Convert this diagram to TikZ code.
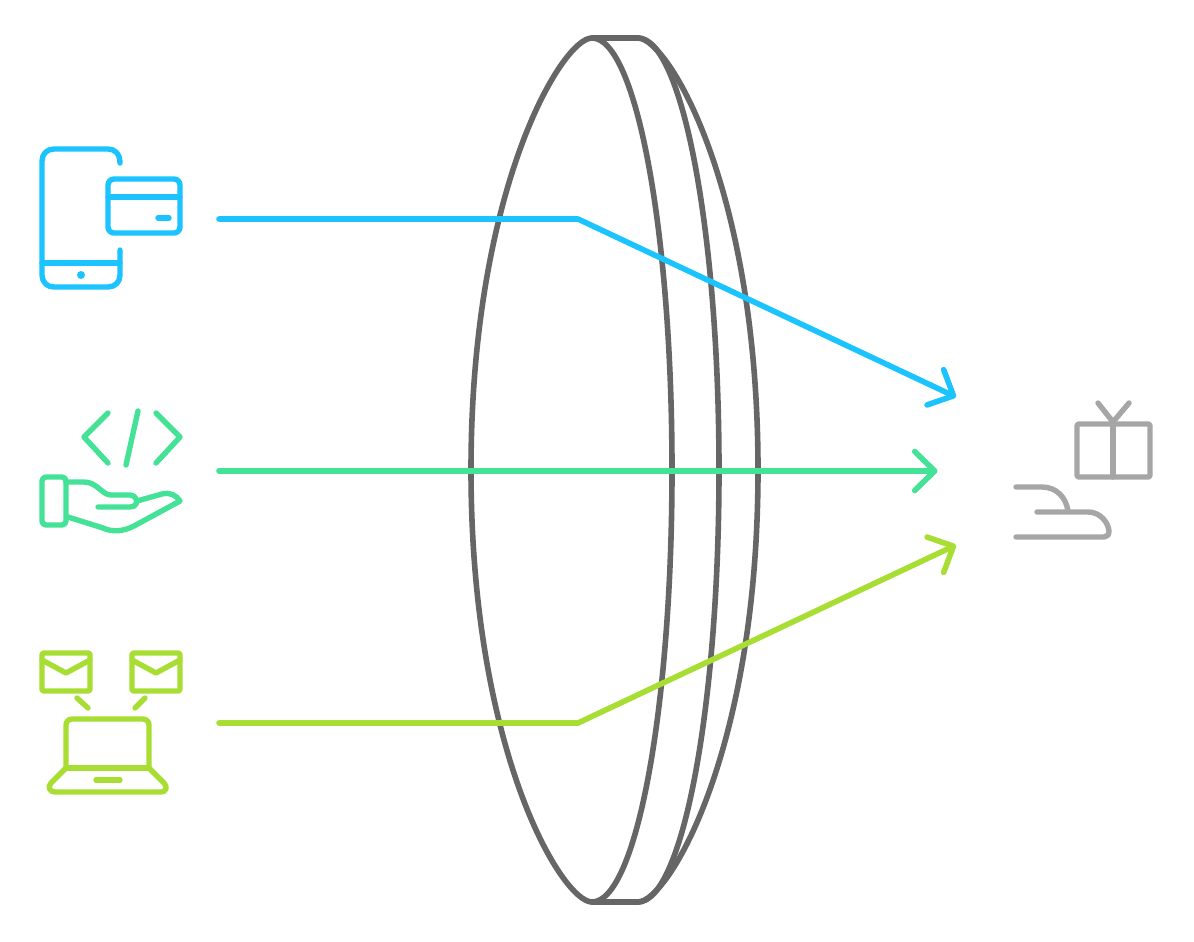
\documentclass[tikz,border=0pt]{standalone}
\usetikzlibrary{arrows.meta}
\definecolor{cblue}{HTML}{1CC4FF}
\definecolor{cgreen}{HTML}{43E296}
\definecolor{clime}{HTML}{A8DE33}
\definecolor{cdark}{HTML}{666666}
\definecolor{cgrey}{HTML}{A6A6A6}
\tikzset{
  icon/.style={line width=5.4pt,line cap=round,line join=round},
  lensline/.style={line width=5.6pt,line cap=round,line join=round,draw=cdark},
  ray/.style={line width=5.6pt,line cap=round,line join=round,-{Straight Barb[length=20pt,width=39pt,round]}}
}
\begin{document}
\begin{tikzpicture}[x=1pt,y=-1pt]
\useasboundingbox (0,0) rectangle (1194,942);
% lens
\draw[lensline] (592,38) -- (638,38);
\draw[lensline] (592,38) .. controls (562,38) and (471,189) .. (471,470)
  .. controls (471,751) and (562,902) .. (592,902)
  .. controls (636,902) and (672,709) .. (672,470)
  .. controls (672,231) and (636,38) .. (592,38);
\draw[lensline] (638,38) .. controls (682,38) and (719,231) .. (719,470)
  .. controls (719,709) and (682,902) .. (638,902);
\draw[lensline] (638,38) .. controls (668,38) and (758,189) .. (758,470)
  .. controls (758,751) and (668,902) .. (638,902);
\draw[lensline] (592,902) -- (638,902);
% connector points
\coordinate (s1) at (219,219);
\coordinate (b1) at (578,219);
\coordinate (t1) at (956,397);
\coordinate (s2) at (219,471);
\coordinate (t2) at (937.5,471);
\coordinate (s3) at (219,723);
\coordinate (b3) at (578,723);
\coordinate (t3) at (956,545);
\draw[ray,draw=cblue] (s1) -- (b1) -- (t1);
\draw[ray,draw=cgreen] (s2) -- (t2);
\draw[ray,draw=clime] (s3) -- (b3) -- (t3);
% phone + card
\begin{scope}[icon,draw=cblue]
\draw (120,163) .. controls (120,154) and (115,149) .. (108,149) -- (54,149)
  .. controls (47,149) and (42,154) .. (42,161) -- (42,275)
  .. controls (42,282) and (47,287) .. (54,287) -- (108,287)
  .. controls (115,287) and (120,282) .. (120,275) -- (120,250);
\draw (42,263) -- (120,263);
\fill[cblue,draw=none] (81,275) circle[radius=4];
\draw[rounded corners=6pt] (108,179) rectangle (180,233);
\draw (108,197) -- (180,197);
\draw (158,218) -- (169,218);
\end{scope}
% code + hand
\begin{scope}[icon,draw=cgreen]
\draw (108,413) -- (84,437) -- (108,463);
\draw (138,411) -- (126,465);
\draw (156,413) -- (180,437) -- (156,463);
\draw[rounded corners=4pt] (42,477) rectangle (66,525);
\draw (66,482) -- (84,482) .. controls (97,482) and (102,495) .. (111,495) -- (130,495)
  .. controls (136,495) and (138,502) .. (136,504) .. controls (135,506) and (133,507) .. (130,507) -- (98,507);
\draw (137,501) -- (162,494) .. controls (170,492) and (176,495) .. (180,501)
  -- (134,526) .. controls (122,532) and (112,532) .. (103,528) -- (68,517);
\end{scope}
% envelopes + laptop
\begin{scope}[icon,draw=clime]
\draw[rounded corners=2pt] (42,653) rectangle (90,691);
\draw (42,660) -- (66,673) -- (90,660);
\draw[rounded corners=2pt] (132,653) rectangle (180,691);
\draw (132,660) -- (156,673) -- (180,660);
\draw (77,698) -- (88,708);
\draw (145,698) -- (135,708);
\draw[rounded corners=6pt] (66,768) -- (66,719) -- (149,719) -- (149,768);
\draw (66,768) -- (149,768);
\draw (66,768) -- (51,783) .. controls (47,787) and (50,792) .. (55,792) -- (161,792)
  .. controls (166,792) and (168,787) .. (164,783) -- (149,768);
\draw (96,780) -- (120,780);
\end{scope}
% gift + fuse
\begin{scope}[icon,draw=cgrey]
\draw[rounded corners=2pt] (1077,424) rectangle (1150,477);
\draw (1113,424) -- (1113,477);
\draw (1098,403) -- (1113,422) -- (1129,403);
\draw (1016,487) -- (1042,487) .. controls (1056,487) and (1066,497) .. (1068,511);
\draw (1037,512) -- (1088,512) .. controls (1100,512) and (1108,522) .. (1109,531)
  .. controls (1109,535) and (1107,537) .. (1104,537) -- (1016,537);
\end{scope}
\end{tikzpicture}
\end{document}
